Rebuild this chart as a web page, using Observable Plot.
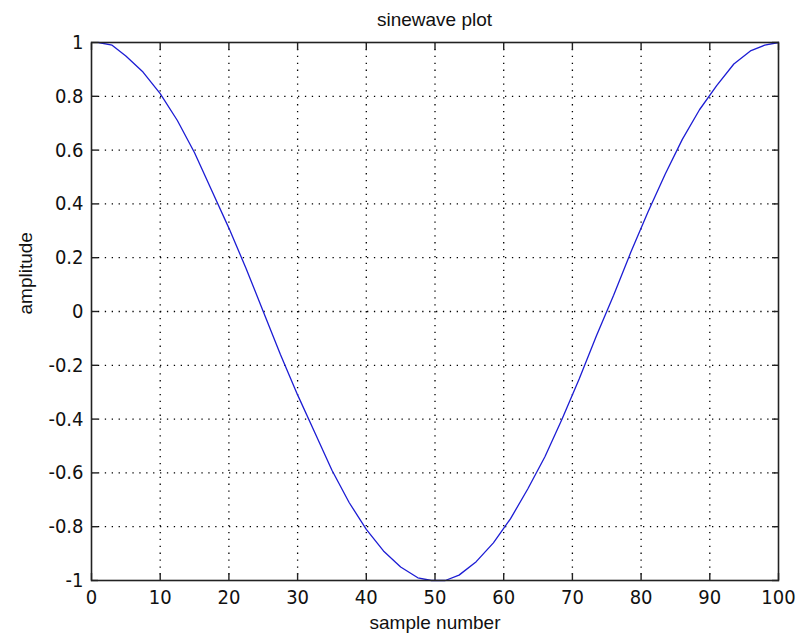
<!DOCTYPE html>
<html>
<head>
<meta charset="utf-8">
<script src="https://cdn.jsdelivr.net/npm/d3@7"></script>
<script src="https://cdn.jsdelivr.net/npm/@observablehq/plot@0.6"></script>
<style>
  html, body { margin: 0; padding: 0; background: #fff; }
  #wrap { width: 805px; }
  #title { height: 30px; box-sizing: border-box; padding-top: 10px; padding-left: 91px; width: 778px; text-align: center;
           font: 19px "Liberation Sans", Arial, sans-serif; line-height: 20px; color: #111; }
  svg { display: block; }
</style>
</head>
<body>
<div id="wrap">
  <div id="title">sinewave plot</div>
  <div id="chart"></div>
</div>
<script>
const titleText = "sinewave plot";
const xLabel = "sample number";
const yLabel = "amplitude";

const sampleNumber = [1, 3, 5, 7.5, 10, 12.5, 15, 17.5, 20, 22.5, 25, 27.5, 30, 32.5, 35, 37.5, 40, 42.5, 45, 47.5, 49.5, 51.5,
  53.5, 56, 58.5, 61, 63.5, 66, 68.5, 71, 73.5, 76, 78.5, 81, 83.5, 86, 88.5, 91, 93.5, 96, 98, 100];
const amplitude = [1.0, 0.99, 0.95, 0.89, 0.81, 0.71, 0.59, 0.45, 0.31, 0.16, 0.0, -0.16, -0.31, -0.45, -0.59, -0.71, -0.81, -0.89, -0.95, -0.99, -1.0, -1.0,
  -0.98, -0.93, -0.86, -0.77, -0.66, -0.54, -0.40, -0.25, -0.09, 0.06, 0.22, 0.37, 0.51, 0.64, 0.75, 0.84, 0.92, 0.97, 0.99, 1.0];

const xTicks = [0, 10, 20, 30, 40, 50, 60, 70, 80, 90, 100];
const yTicks = [-1, -0.8, -0.6, -0.4, -0.2, 0, 0.2, 0.4, 0.6, 0.8, 1];
const xGrid = [10, 20, 30, 40, 50, 60, 70, 80, 90];
const yGrid = [-0.8, -0.6, -0.4, -0.2, 0, 0.2, 0.4, 0.6, 0.8];

const data = sampleNumber.map((x, i) => ({x, y: amplitude[i]}));
const tickFont = '"Liberation Sans Narrow", "DejaVu Sans Condensed", "Arial Narrow", sans-serif';

const chart = Plot.plot({
  width: 805,
  height: 607,
  marginLeft: 91,
  marginRight: 27,
  marginTop: 12,
  marginBottom: 57,
  style: {fontFamily: '"Liberation Sans", Arial, sans-serif', background: "#fff", color: "#111", overflow: "visible"},
  x: {domain: [0, 100]},
  y: {domain: [-1, 1]},
  marks: [
    Plot.gridX(xGrid, {stroke: "#000", strokeOpacity: 1, strokeWidth: 1.3, strokeDasharray: "1.3,5.6"}),
    Plot.gridY(yGrid, {stroke: "#000", strokeOpacity: 1, strokeWidth: 1.3, strokeDasharray: "1.3,5.6"}),
    Plot.axisX(xTicks, {anchor: "bottom", tickSize: 0, tickPadding: 9, tickFormat: d => String(d), fontSize: 20, fontFamily: tickFont, label: null}),
    Plot.axisY(yTicks, {anchor: "left", tickSize: 0, tickPadding: 8, tickFormat: d => String(d), fontSize: 20, fontFamily: tickFont, label: null}),
    Plot.axisX(xTicks, {anchor: "bottom", tickSize: -7, tickFormat: () => "", label: null, stroke: "#222", strokeWidth: 1.4}),
    Plot.axisX(xTicks, {anchor: "top", tickSize: -7, tickFormat: () => "", label: null, stroke: "#222", strokeWidth: 1.4}),
    Plot.axisY(yTicks, {anchor: "left", tickSize: -7, tickFormat: () => "", label: null, stroke: "#222", strokeWidth: 1.4}),
    Plot.axisY(yTicks, {anchor: "right", tickSize: -7, tickFormat: () => "", label: null, stroke: "#222", strokeWidth: 1.4}),
    Plot.line(data, {x: "x", y: "y", stroke: "#1c1cd4", strokeWidth: 1.3}),
    Plot.frame({stroke: "#222", strokeWidth: 1.6}),
    Plot.text([xLabel], {frameAnchor: "bottom", dy: 48, text: d => d, fontSize: 19, fill: "#111"}),
    Plot.text([yLabel], {frameAnchor: "left", dx: -66, dy: 3, rotate: -90, text: d => d, fontSize: 19, fill: "#111"})
  ]
});
document.getElementById("chart").appendChild(chart);
</script>
</body>
</html>
